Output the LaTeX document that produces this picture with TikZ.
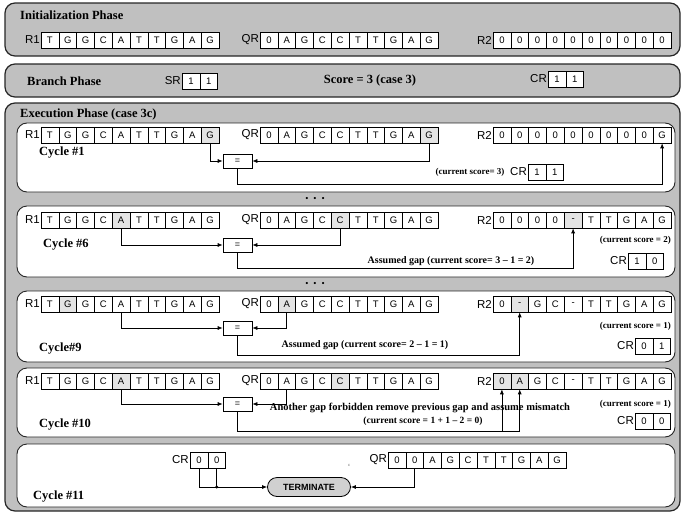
\documentclass[tikz,border=0pt]{standalone}
\usepackage{fontspec}
\setmainfont{Liberation Serif}
\setsansfont{Liberation Sans}
\usetikzlibrary{arrows.meta}

\definecolor{phasegray}{HTML}{C0C0C0}
\definecolor{litcell}{HTML}{E4E4E4}
\definecolor{termgray}{HTML}{D0D0D0}

% one register: name, label, left x, y, first and last lit cell, contents
\newcommand{\regrow}[7]{%
  \node[reglabel] (#1-lbl) at (#3,#4) {#2};
  \foreach \letter [count=\i] in {#7} {
    \ifnum\i<#5 \def\cellfill{bare}\else\ifnum\i>#6 \def\cellfill{bare}\else\def\cellfill{lit}\fi\fi
    \node[cell,\cellfill] (#1-\i) at ({#3+(\i-0.5)*17.8},#4) {\letter};
  }}

\begin{document}
\begin{tikzpicture}[x=1pt,y=-1pt,>={Latex[length=5pt,width=4pt]},
  phasebox/.style={draw=black!85,line width=1.2pt,fill=phasegray,rounded corners=10pt},
  cyclebox/.style={draw=black!85,line width=0.9pt,fill=white,rounded corners=10pt},
  cell/.style={draw,line width=0.6pt,minimum width=17.8pt,minimum height=16pt,inner sep=0pt,font=\sffamily\fontsize{9.5}{10}\selectfont},
  bare/.style={fill=white},
  lit/.style={fill=litcell},
  reglabel/.style={anchor=east,inner sep=1pt,font=\sffamily\fontsize{11.5}{12}\selectfont},
  phasetitle/.style={anchor=west,inner sep=0pt,font=\fontsize{12.5}{14}\selectfont\bfseries},
  scorenote/.style={inner sep=0pt,font=\fontsize{9}{10}\selectfont\bfseries},
  gapnote/.style={inner sep=0pt,font=\fontsize{10}{12}\selectfont\bfseries},
  eqbox/.style={draw,fill=white,line width=0.7pt,minimum width=29pt,minimum height=14pt,inner sep=0pt,font=\sffamily\fontsize{9}{10}\selectfont},
  termbox/.style={draw,fill=termgray,line width=0.8pt,rounded corners=9.5pt,minimum width=83pt,minimum height=19pt,inner sep=0pt,font=\sffamily\bfseries\fontsize{9}{10}\selectfont},
  skipdots/.style={inner sep=0pt,font=\fontsize{9}{10}\selectfont},
  wire/.style={line width=0.7pt}]
  \useasboundingbox (0,0) rectangle (682,514);

  % initialization phase
  \draw[phasebox] (5,3) rectangle (680,56);
  \node[phasetitle] (initname) at (20,15) {Initialization Phase};
  \regrow{r1i}{R1}{41}{40}{0}{0}{T,G,G,C,A,T,T,G,A,G}
  \regrow{qri}{QR}{260}{40}{0}{0}{0,A,G,C,C,T,T,G,A,G}
  \regrow{r2i}{R2}{493}{40}{0}{0}{0,0,0,0,0,0,0,0,0,0}

  % branch phase
  \draw[phasebox] (5,64) rectangle (680,97);
  \node[phasetitle] (branchname) at (27,81) {Branch Phase};
  \regrow{srb}{SR}{182}{81}{0}{0}{1,1}
  \node[phasetitle,anchor=center] (score) at (370,80) {Score = 3 (case 3)};
  \regrow{crb}{CR}{548}{79}{0}{0}{1,1}

  % execution phase
  \draw[phasebox] (5,103) rectangle (680,511);
  \node[phasetitle] (execname) at (20,114) {Execution Phase (case 3c)};

  % cycle 1
  \draw[cyclebox] (17,123) rectangle (675,192);
  \regrow{r1a}{R1}{41}{135}{10}{10}{T,G,G,C,A,T,T,G,A,G}
  \regrow{qra}{QR}{260}{135}{10}{10}{0,A,G,C,C,T,T,G,A,G}
  \regrow{r2a}{R2}{493}{135}{0}{0}{0,0,0,0,0,0,0,0,0,G}
  \node[phasetitle] (cyca) at (39,153) {Cycle \#1};
  \node[eqbox] (eqa) at (237.5,161) {=};
  \node[scorenote] (scorea) at (470,172) {(current score= 3)};
  \regrow{cra}{CR}{528}{172}{0}{0}{1,1}
  \draw[wire,->] (r1a-10.south) |- (eqa.west);
  \draw[wire,->] (qra-10.south) |- (eqa.east);
  \draw[wire,->] (eqa.south) -- ++(0,16) -| (r2a-10.south);

  \node[skipdots] (dotsa) at (315,199) {\textbullet\hspace{5pt}\textbullet\hspace{5pt}\textbullet};

  % cycle 6
  \draw[cyclebox] (17,206) rectangle (675,277);
  \regrow{r1b}{R1}{41}{220}{5}{5}{T,G,G,C,A,T,T,G,A,G}
  \regrow{qrb}{QR}{260}{220}{5}{5}{0,A,G,C,C,T,T,G,A,G}
  \regrow{r2b}{R2}{493}{220}{5}{5}{0,0,0,0,-,T,T,G,A,G}
  \node[phasetitle] (cycb) at (43,245) {Cycle \#6};
  \node[eqbox] (eqb) at (237.5,245) {=};
  \node[scorenote,anchor=east] (scoreb) at (671,240) {(current score = 2)};
  \node[gapnote] (gapb) at (451,261) {Assumed gap (current score= 3 – 1 = 2)};
  \regrow{crc}{CR}{628}{261}{0}{0}{1,0}
  \draw[wire,->] (r1b-5.south) |- (eqb.west);
  \draw[wire,->] (qrb-5.south) |- (eqb.east);
  \draw[wire,->] (eqb.south) -- ++(0,16) -| (r2b-5.south);

  \node[skipdots] (dotsb) at (315,284) {\textbullet\hspace{5pt}\textbullet\hspace{5pt}\textbullet};

  % cycle 9
  \draw[cyclebox] (17,291) rectangle (675,362);
  \regrow{r1c}{R1}{41}{304}{2}{2}{T,G,G,C,A,T,T,G,A,G}
  \regrow{qrc}{QR}{260}{304}{2}{2}{0,A,G,C,C,T,T,G,A,G}
  \regrow{r2c}{R2}{493}{304}{2}{2}{0,-,G,C,-,T,T,G,A,G}
  \node[phasetitle] (cycc) at (39,349) {Cycle\#9};
  \node[eqbox] (eqc) at (237.5,328) {=};
  \node[scorenote,anchor=east] (scorec) at (671,326) {(current score = 1)};
  \node[gapnote] (gapc) at (365,345) {Assumed gap (current score= 2 – 1 = 1)};
  \regrow{crd}{CR}{635}{346}{0}{0}{0,1}
  \draw[wire,->] (r1c-5.south) |- (eqc.west);
  \draw[wire,->] (qrc-2.south) |- (eqc.east);
  \draw[wire,->] (eqc.south) -- ++(0,20) -| (r2c-2.south);

  % cycle 10
  \draw[cyclebox] (17,368) rectangle (675,437);
  \regrow{r1d}{R1}{41}{381}{5}{5}{T,G,G,C,A,T,T,G,A,G}
  \regrow{qrd}{QR}{260}{381}{5}{5}{0,A,G,C,C,T,T,G,A,G}
  \regrow{r2d}{R2}{493}{381}{1}{2}{0,A,G,C,-,T,T,G,A,G}
  \node[phasetitle] (cycd) at (39,425) {Cycle \#10};
  \node[eqbox] (eqd) at (237.5,404) {=};
  \node[scorenote,anchor=east] (scored) at (671,404) {(current score = 1)};
  \node[gapnote,font=\fontsize{10.5}{12}\selectfont\bfseries] (gapd) at (420,408) {Another gap forbidden remove previous gap and assume mismatch};
  \node[gapnote,font=\fontsize{9.5}{11}\selectfont\bfseries] (gapd2) at (423,421) {(current score = 1 + 1 – 2 = 0)};
  \regrow{cre}{CR}{635}{421}{0}{0}{0,0}
  \coordinate (busd) at (237.5,431);
  \draw[wire,->] (r1d-5.south) |- (eqd.west);
  \draw[wire,->] (qrd-2.south) |- (eqd.east);
  \draw[wire,->] (eqd.south) |- (busd) -| (r2d-2.south);
  \draw[wire,->] (r2d-1.south |- busd) -- (r2d-1.south);

  % cycle 11
  \draw[cyclebox] (17,444) rectangle (675,507);
  \regrow{crf}{CR}{190}{460}{0}{0}{0,0}
  \regrow{qrf}{QR}{388}{460}{0}{0}{0,0,A,G,C,T,T,G,A,G}
  \node[termbox] (term) at (309,487) {TERMINATE};
  \node[inner sep=0pt,text=black!60,font=\sffamily\fontsize{4}{4}\selectfont] (stray) at (349,465) {c};
  \node[phasetitle] (cycf) at (33,497) {Cycle \#11};
  \draw[wire,->] (crf-1.south) |- (term.west);
  \draw[wire] (crf-2.south) -- (crf-2.south |- term.west);
  \fill (crf-2.south |- term.west) circle (1.6);
  \draw[wire,->] (qrf-2.south) |- (term.east);
\end{tikzpicture}
\end{document}
